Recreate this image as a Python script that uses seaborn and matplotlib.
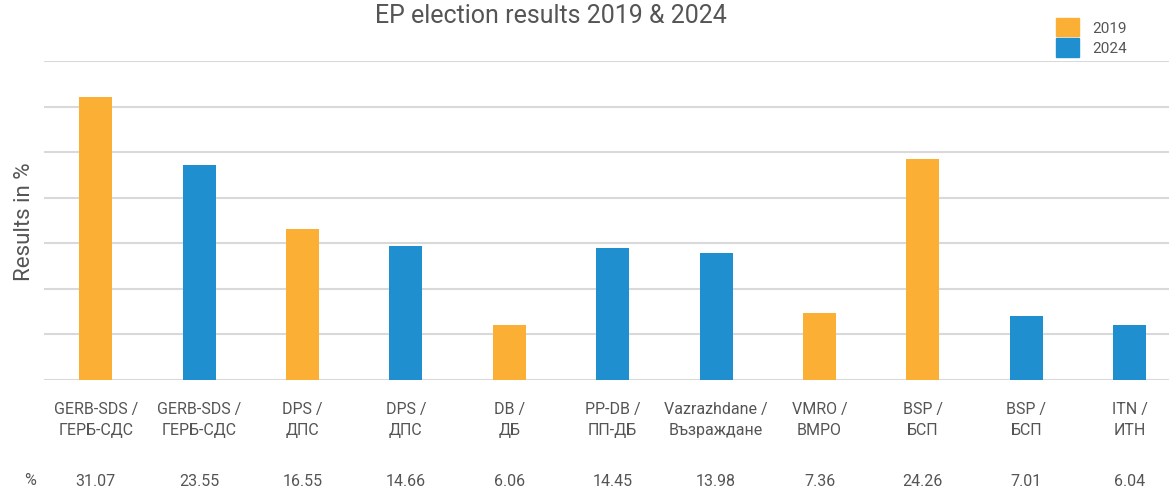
import numpy as np
import pandas as pd
import matplotlib.pyplot as plt
import seaborn as sns
from matplotlib.patches import Patch
from matplotlib.transforms import blended_transform_factory

# Data
labels = ['GERB-SDS /\nГЕРБ-СДС', 'GERB-SDS /\nГЕРБ-СДС', 'DPS /\nДПС', 'DPS /\nДПС', 'DB /\nДБ',
          'PP-DB /\nПП-ДБ', 'Vazrazhdane /\nВъзраждане', 'VMRO /\nВМРО', 'BSP /\nБСП', 'BSP /\nБСП',
          'ITN /\nИТН']
years = ['2019', '2024', '2019', '2024', '2019', '2024', '2024', '2019', '2019', '2024', '2024']
results = [31.07, 23.55, 16.55, 14.66, 6.06, 14.45, 13.98, 7.36, 24.26, 7.01, 6.04]

colors = {'2019': '#fbaf34', '2024': '#1f8fd0'}
text_color = '#555555'

df = pd.DataFrame({'pos': range(len(labels)), 'year': years, 'result': results})

sns.set_style('white')
plt.rcParams['font.family'] = ['Roboto', 'DejaVu Sans']

fig = plt.figure(figsize=(11.69, 4.89), dpi=100)
ax = fig.add_axes([44 / 1169, (489 - 381) / 489, (1169 - 44) / 1169, (381 - 62) / 489])

sns.barplot(data=df, x='pos', y='result', hue='year', palette=colors, dodge=False,
            width=0.32, ax=ax, legend=False, native_scale=True, saturation=1, linewidth=0)

ax.set_xlim(-0.5, 10.38)
ax.set_ylim(0, 35)
ax.set_yticks(np.arange(0, 36, 5))
ax.set_yticklabels([])
ax.yaxis.grid(True, color='#d9d9d9', linewidth=1.5)
ax.set_axisbelow(True)
for s in ax.spines.values():
    s.set_visible(False)
ax.tick_params(axis='both', length=0)

ax.set_xticks(range(len(labels)))
ax.set_xticklabels(labels, fontsize=11.5, color=text_color, linespacing=1.55)
ax.tick_params(axis='x', pad=15)
ax.set_xlabel('')
ax.set_ylabel('Results in %', fontsize=16, color=text_color)
ax.yaxis.set_label_coords(-0.008, 0.5)

# value row under the labels
trans = blended_transform_factory(ax.transData, ax.transAxes)
for i, v in enumerate(results):
    ax.text(i, -0.315, f'{v:.2f}', transform=trans, ha='center', va='center',
            fontsize=11.5, color=text_color)
fig.text(30 / 1169, 1 - 481 / 489, '%', ha='center', va='center', fontsize=11.5, color=text_color)

fig.text(551 / 1169, 1 - 16 / 489, 'EP election results 2019 & 2024', ha='center', va='center',
         fontsize=18, color=text_color)

handles = [Patch(color=colors['2019'], label='2019'), Patch(color=colors['2024'], label='2024')]
fig.legend(handles=handles, loc='upper left', bbox_to_anchor=(1042 / 1169, 1 - 5 / 489),
           frameon=False, fontsize=11, handlelength=1.5, handleheight=1.5,
           labelspacing=0.1, handletextpad=0.9, labelcolor=text_color)

fig.savefig('out.png', dpi=100)
